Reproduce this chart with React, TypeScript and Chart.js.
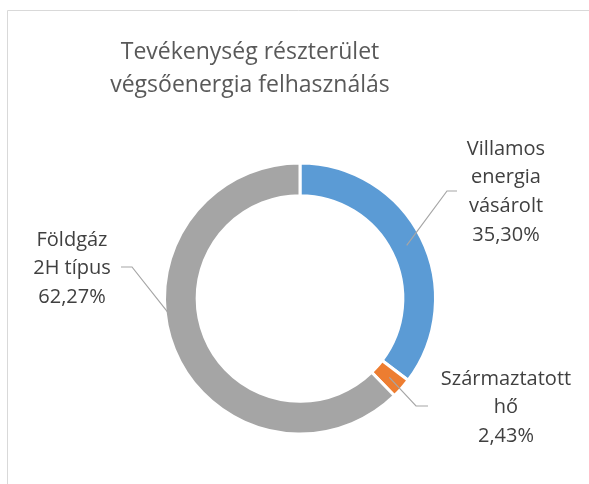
import React, { useEffect, useRef } from 'react';
import { Chart, registerables } from 'chart.js';

Chart.register(...registerables);

// ---- data ----
const categories: string[][] = [
  ['Villamos', 'energia', 'vásárolt'],
  ['Származtatott', 'hő'],
  ['Földgáz', '2H típus'],
];
const shares: number[] = [35.3, 2.43, 62.27];
const colors: string[] = ['#5B9BD5', '#ED7D31', '#A5A5A5'];
const titleLines: string[] = ['Tevékenység részterület', 'végsőenergia felhasználás'];

// ---- label layout (text block placement + leader elbows) ----
type LabelLayout = {
  cx: number;
  firstY: number;
  elbow: [number, number];
  end: [number, number];
  attachAngleDeg?: number;
  attachRadius: 'mid' | 'outer';
};
const labelLayout: LabelLayout[] = [
  { cx: 506, firstY: 149, elbow: [447, 191], end: [457, 191], attachRadius: 'mid' },
  { cx: 506, firstY: 379, elbow: [416, 406], end: [428, 406], attachRadius: 'mid' },
  { cx: 72, firstY: 240, elbow: [132, 267], end: [121, 267], attachAngleDeg: 173.8, attachRadius: 'outer' },
];

const FONT = '"Open Sans", "Noto Sans", sans-serif';

const fmt = (v: number) => v.toFixed(2).replace('.', ',') + '%';

const decorPlugin = {
  id: 'decor',
  beforeDraw(chart: any) {
    const ctx = chart.ctx;
    ctx.save();
    ctx.strokeStyle = '#D9D9D9';
    ctx.lineWidth = 1;
    ctx.beginPath();
    ctx.moveTo(7.5, 2000);
    ctx.lineTo(7.5, 10.5);
    ctx.lineTo(2000, 10.5);
    ctx.stroke();
    // title
    ctx.fillStyle = '#595959';
    ctx.font = `23px ${FONT}`;
    ctx.textAlign = 'center';
    ctx.textBaseline = 'middle';
    titleLines.forEach((t, i) => ctx.fillText(t, 250, 52 + i * 33));
    ctx.restore();
  },
  afterDraw(chart: any) {
    const ctx = chart.ctx;
    const meta = chart.getDatasetMeta(0);
    ctx.save();
    meta.data.forEach((arc: any, i: number) => {
      const p = arc.getProps(['x', 'y', 'startAngle', 'endAngle', 'innerRadius', 'outerRadius'], true);
      const lay = labelLayout[i];
      const ang = lay.attachAngleDeg !== undefined ? (lay.attachAngleDeg * Math.PI) / 180 : (p.startAngle + p.endAngle) / 2;
      const r = lay.attachRadius === 'mid' ? (p.innerRadius + p.outerRadius) / 2 : p.outerRadius - 3;
      const ax = p.x + r * Math.cos(ang);
      const ay = p.y + r * Math.sin(ang);
      ctx.strokeStyle = '#A6A6A6';
      ctx.lineWidth = 1.2;
      ctx.beginPath();
      ctx.moveTo(ax, ay);
      ctx.lineTo(lay.elbow[0], lay.elbow[1]);
      ctx.lineTo(lay.end[0], lay.end[1]);
      ctx.stroke();

      ctx.fillStyle = '#404040';
      ctx.font = `20px ${FONT}`;
      ctx.textAlign = 'center';
      ctx.textBaseline = 'middle';
      const lines = [...categories[i], fmt(shares[i])];
      lines.forEach((t, k) => ctx.fillText(t, lay.cx, lay.firstY + k * 28.7));
    });
    ctx.restore();
  },
};

export default function App() {
  const ref = useRef<HTMLCanvasElement | null>(null);
  useEffect(() => {
    if (!ref.current) return;
    const chart = new Chart(ref.current, {
      type: 'doughnut',
      data: {
        labels: categories.map((c) => c.join(' ')),
        datasets: [
          {
            data: shares,
            backgroundColor: colors,
            borderColor: '#FFFFFF',
            borderWidth: 3,
          },
        ],
      },
      options: {
        responsive: false,
        animation: false,
        cutout: '75.9%',
        layout: { padding: { left: 163, right: 152, top: 161.5, bottom: 48.5 } },
        plugins: {
          legend: { display: false },
          title: { display: false },
          tooltip: { enabled: false },
        },
      },
      plugins: [decorPlugin],
    });
    return () => chart.destroy();
  }, []);
  return (
    <div style={{ position: 'fixed', left: 0, top: 0, width: 589, height: 484, background: '#fff' }}>
      <canvas ref={ref} width={589} height={484} style={{ width: 589, height: 484, display: 'block' }} />
    </div>
  );
}
